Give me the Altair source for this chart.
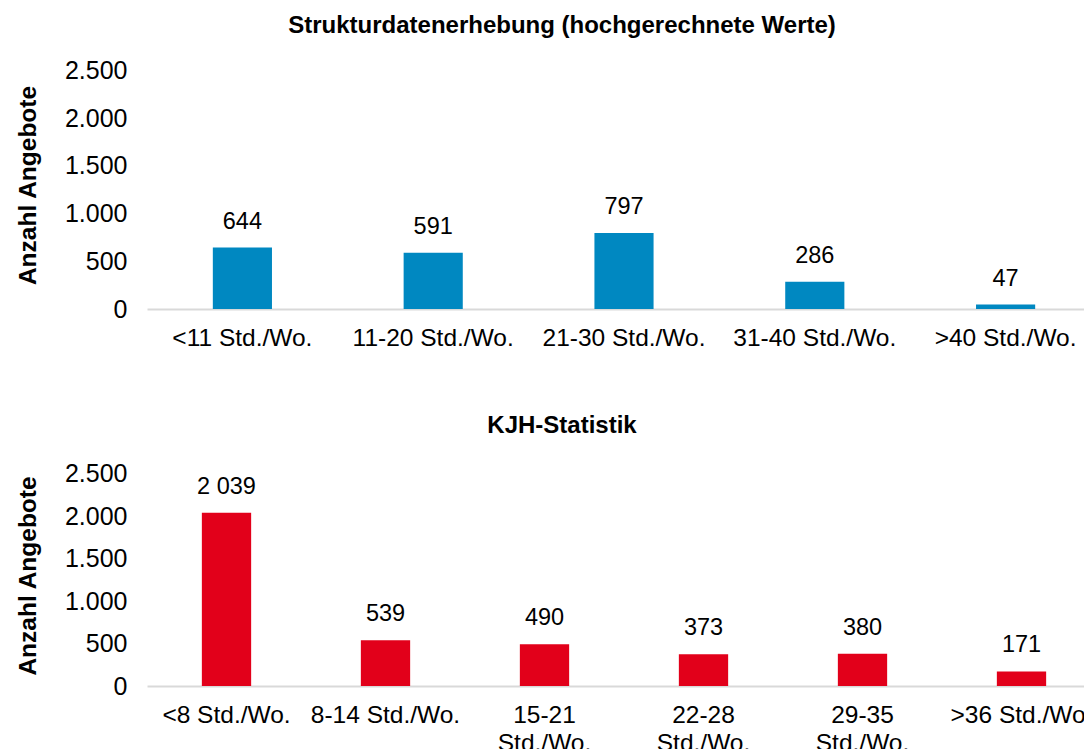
import altair as alt
import pandas as pd

top_cats = ["<11 Std./Wo.", "11-20 Std./Wo.", "21-30 Std./Wo.", "31-40 Std./Wo.", ">40 Std./Wo."]
top_vals = [644, 591, 797, 286, 47]
top_labels = ["644", "591", "797", "286", "47"]

bot_cats = ["<8 Std./Wo.", "8-14 Std./Wo.", "15-21 Std./Wo.", "22-28 Std./Wo.", "29-35 Std./Wo.", ">36 Std./Wo."]
bot_vals = [2039, 539, 490, 373, 380, 171]
bot_labels = ["2 039", "539", "490", "373", "380", "171"]
wrapped = ["15-21 Std./Wo.", "22-28 Std./Wo.", "29-35 Std./Wo."]

FONT = "Liberation Sans"
W = 954

def panel(cats, vals, labels, color, title, height, title_offset, wrap=False):
    df = pd.DataFrame({"cat": cats, "val": vals, "lab": labels})
    label_expr = "datum.value"
    if wrap:
        arr = "[" + ",".join("'" + w + "'" for w in wrapped) + "]"
        label_expr = f"indexof({arr}, datum.value) >= 0 ? split(datum.value, ' ') : datum.value"
    x = alt.X("cat:N", sort=cats, title=None,
              scale=alt.Scale(paddingInner=0.69, paddingOuter=0.345),
              axis=alt.Axis(labelAngle=0, labelExpr=label_expr, ticks=False,
                            domainColor="#d9d9d9", domainWidth=2, labelPadding=17,
                            labelFontSize=24.5, labelColor="#000000", labelFont=FONT,
                            labelLineHeight=28, labelLimit=300))
    y = alt.Y("val:Q", title="Anzahl Angebote",
              scale=alt.Scale(domain=[0, 2500]),
              axis=alt.Axis(values=[0, 500, 1000, 1500, 2000, 2500],
                            labelExpr="replace(format(datum.value, ','), ',', '.')",
                            domain=False, ticks=False, grid=False, labelPadding=20,
                            labelFontSize=25, labelColor="#000000", labelFont=FONT,
                            titleFontSize=24.5, titleFont=FONT, titleFontWeight="bold",
                            titleColor="#000000", titlePadding=24))
    base = alt.Chart(df)
    bars = base.mark_bar(color=color).encode(x=x, y=y)
    text = base.mark_text(baseline="bottom", dy=-14, fontSize=23.5, font=FONT, color="#000000").encode(
        x=alt.X("cat:N", sort=cats), y="val:Q", text="lab:N")
    return (bars + text).properties(
        width=W, height=height,
        title=alt.TitleParams(title, fontSize=24, font=FONT, fontWeight="bold", color="#000000",
                              anchor="middle", offset=title_offset, dx=-62))

top = panel(top_cats, top_vals, top_labels, "#0088C1",
            "Strukturdatenerhebung (hochgerechnete Werte)", 248, 21)
bot = panel(bot_cats, bot_vals, bot_labels, "#E2001A", "KJH-Statistik", 221, 24, wrap=True)

chart = alt.vconcat(top, bot, spacing=63).properties(
    padding={"left": 7, "top": 5, "right": -17, "bottom": 0},
    background="#ffffff",
).configure_view(stroke=None)

chart.save("out.html", embed_options={"renderer": "svg", "actions": False})
